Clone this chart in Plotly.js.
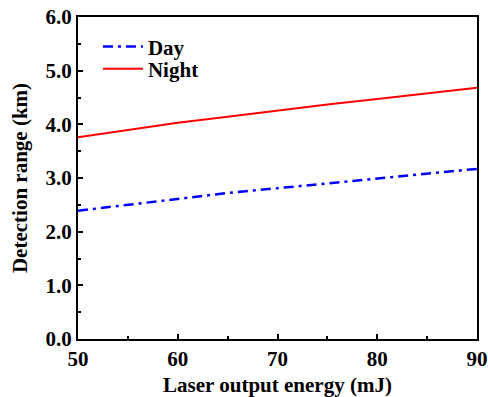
<!DOCTYPE html>
<html>
<head>
<meta charset="utf-8">
<script src="https://cdn.plot.ly/plotly-3.0.1.min.js"></script>
<style>html,body{margin:0;padding:0;background:#fff;}#chart{width:488px;height:397px;}</style>
</head>
<body>
<div id="chart"></div>
<script>
const energy = [50, 55, 60, 65, 70, 75, 80, 85, 90];
const dayRange = [2.39, 2.50, 2.61, 2.72, 2.81, 2.90, 2.99, 3.08, 3.17];
const nightRange = [3.76, 3.90, 4.03, 4.14, 4.26, 4.37, 4.47, 4.58, 4.68];
const seriesNames = ["Day", "Night"];
const xTickVals = [50, 60, 70, 80, 90];
const yTickVals = [0, 1, 2, 3, 4, 5, 6];
const yTickText = ["0.0", "1.0", "2.0", "3.0", "4.0", "5.0", "6.0"];

const FONT = "Liberation Serif, Times New Roman, serif";

const traces = [
  {x: energy, y: dayRange, name: seriesNames[0], mode: "lines", legend: "legend",
   line: {color: "#0000ff", width: 2.5, dash: "10px,5px,3px,5px"}},
  {x: energy, y: nightRange, name: seriesNames[1], mode: "lines", legend: "legend2",
   line: {color: "#ff0000", width: 2}}
];

const axisCommon = {
  showline: true, linecolor: "#000", linewidth: 2, mirror: true,
  ticks: "inside", ticklen: 5, tickwidth: 2, tickcolor: "#000",
  showgrid: false, zeroline: false,
  tickfont: {family: FONT, size: 21, color: "#000", weight: "bold"}
};

const legFont = {family: FONT, size: 21, color: "#000", weight: "bold"};

const layout = {
  width: 488, height: 397,
  margin: {l: 78, r: 11, t: 17, b: 58},
  paper_bgcolor: "#fff", plot_bgcolor: "#fff",
  font: {family: FONT, color: "#000", weight: "bold"},
  showlegend: true,
  legend: {x: 0.05, y: 0.907, xanchor: "left", yanchor: "middle", itemwidth: 40,
    bgcolor: "rgba(0,0,0,0)", font: legFont},
  legend2: {x: 0.05, y: 0.8385, xanchor: "left", yanchor: "middle", itemwidth: 40,
    bgcolor: "rgba(0,0,0,0)", font: legFont},
  xaxis: Object.assign({}, axisCommon, {
    range: [50, 90], tickvals: xTickVals, ticktext: xTickVals.map(String),
    minor: {ticks: "inside", ticklen: 3, tickwidth: 2, tickcolor: "#000", dtick: 5, tick0: 50, showgrid: false},
    title: {text: "Laser output energy (mJ)", standoff: 9,
      font: {family: FONT, size: 21, color: "#000", weight: "bold"}}
  }),
  yaxis: Object.assign({}, axisCommon, {
    range: [0, 6], tickvals: yTickVals, ticktext: yTickText,
    minor: {ticks: "inside", ticklen: 3, tickwidth: 2, tickcolor: "#000", dtick: 0.5, tick0: 0, showgrid: false},
    title: {text: "Detection range (km)", standoff: 12,
      font: {family: FONT, size: 21, color: "#000", weight: "bold"}}
  })
};

Plotly.newPlot("chart", traces, layout, {displayModeBar: false, staticPlot: true});
</script>
</body>
</html>
